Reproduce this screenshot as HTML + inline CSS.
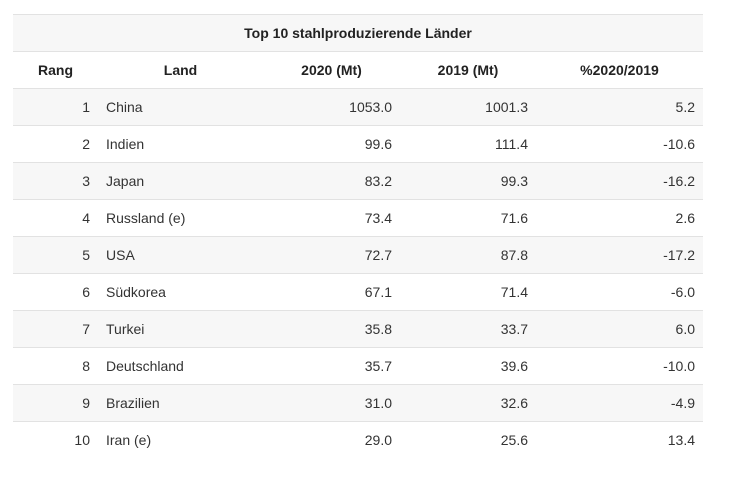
<!DOCTYPE html>
<html><head><meta charset="utf-8">
<style>
body{margin:0;width:756px;height:498px;background:#fff;font-family:"Liberation Sans",sans-serif;color:#333;position:relative;overflow:hidden}
.row{position:absolute;left:13px;width:690px;height:37px;border-top:1px solid #e2e2e2;box-sizing:border-box}
.g{background:#f7f7f7}
.c{position:absolute;top:0;height:36px;line-height:36px;font-size:14px;white-space:nowrap;box-sizing:border-box}
.h{font-weight:bold;color:#222;text-align:center}
.r{text-align:right;padding-right:8px}
.l{text-align:left;padding-left:8px}
</style></head><body>
<div id="tbl"></div>
<script>
const rangs=[1,2,3,4,5,6,7,8,9,10];
const lands=["China","Indien","Japan","Russland (e)","USA","Südkorea","Turkei","Deutschland","Brazilien","Iran (e)"];
const v2020=["1053.0","99.6","83.2","73.4","72.7","67.1","35.8","35.7","31.0","29.0"];
const v2019=["1001.3","111.4","99.3","71.6","87.8","71.4","33.7","39.6","32.6","25.6"];
const pct=["5.2","-10.6","-16.2","2.6","-17.2","-6.0","6.0","-10.0","-4.9","13.4"];
const headers=["Rang","Land","2020 (Mt)","2019 (Mt)","%2020/2019"];
const colX=[0,85,250,387,523,690];
const t=document.getElementById('tbl');
function row(top,gray,name){const r=document.createElement('div');r.className='row'+(gray?' g':'');r.style.top=top+'px';


t.appendChild(r);return r;}
function cell(r,i,txt,cls,name){const c=document.createElement('div');c.className='c '+cls;c.style.left=colX[i]+'px';c.style.width=(colX[i+1]-colX[i])+'px';c.textContent=txt;


r.appendChild(c);return c;}
const tr=row(14,true,'table-title');
const tc=document.createElement('div');tc.className='c h';tc.style.left='0';tc.style.width='690px';tc.textContent='Top 10 stahlproduzierende Länder';


tr.appendChild(tc);
const hr=row(51,false,'header-row');
headers.forEach((h,i)=>cell(hr,i,h,'h','header-'+i));
for(let k=0;k<rangs.length;k++){
 const r=row(88+37*k,k%2==0,'row-'+rangs[k]);
 cell(r,0,String(rangs[k]),'r','rang');
 cell(r,1,lands[k],'l','land');
 cell(r,2,v2020[k],'r','value-2020');
 cell(r,3,v2019[k],'r','value-2019');
 cell(r,4,pct[k],'r','pct-change');
}
</script>
</body></html>
